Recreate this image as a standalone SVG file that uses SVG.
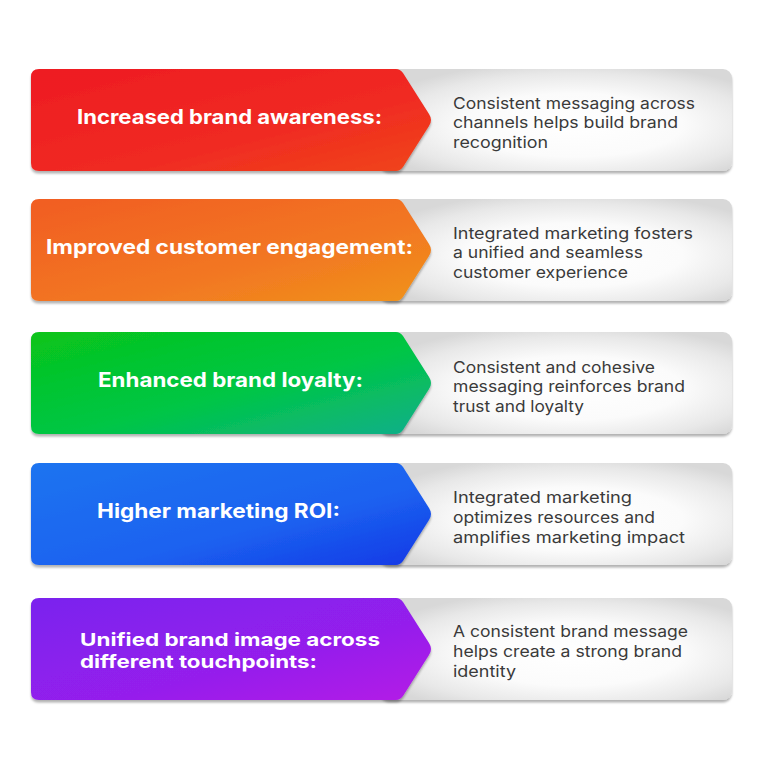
<svg xmlns="http://www.w3.org/2000/svg" xmlns:xlink="http://www.w3.org/1999/xlink" width="768" height="768" viewBox="0 0 768 768">
  <defs>
    <filter id="sh" x="-5%" y="-10%" width="110%" height="130%">
      <feDropShadow dx="0" dy="2.5" stdDeviation="1" flood-color="#000" flood-opacity="0.3"/>
    </filter>
    <radialGradient id="gGray" cx="0.55" cy="0.55" r="0.62">
      <stop offset="0" stop-color="#ffffff"/>
      <stop offset="0.5" stop-color="#fbfbfb"/>
      <stop offset="0.82" stop-color="#e8e8e8"/>
      <stop offset="1" stop-color="#d8d8d8"/>
    </radialGradient>
    <linearGradient id="gRed" x1="0" y1="0" x2="1" y2="1">
      <stop offset="0" stop-color="#ee1b24"/>
      <stop offset="0.6" stop-color="#f02a22"/>
      <stop offset="1" stop-color="#f0461a"/>
    </linearGradient>
    <linearGradient id="gOrange" x1="0" y1="0" x2="1" y2="1">
      <stop offset="0" stop-color="#f15d22"/>
      <stop offset="0.6" stop-color="#f27722"/>
      <stop offset="1" stop-color="#f0931a"/>
    </linearGradient>
    <linearGradient id="gGreen" x1="0" y1="0" x2="1" y2="1">
      <stop offset="0" stop-color="#08c41a"/>
      <stop offset="0.55" stop-color="#02c645"/>
      <stop offset="1" stop-color="#0fae8c"/>
    </linearGradient>
    <linearGradient id="gBlue" x1="0" y1="0" x2="1" y2="1">
      <stop offset="0" stop-color="#1f74f0"/>
      <stop offset="0.6" stop-color="#1c62f0"/>
      <stop offset="1" stop-color="#1238e6"/>
    </linearGradient>
    <linearGradient id="gPurple" x1="0" y1="0" x2="1" y2="1">
      <stop offset="0" stop-color="#7a22ee"/>
      <stop offset="0.6" stop-color="#951fec"/>
      <stop offset="1" stop-color="#b41ae6"/>
    </linearGradient>
    <path id="arrow" d="M39,0 L396,0 Q400,0 403,4 L429,45 Q433,51 429,57 L403,98 Q400,102 396,102 L39,102 Q31,102 31,94 L31,8 Q31,0 39,0 Z"/>
    <rect id="panel" x="380" y="0" width="352" height="102" rx="9"/>
    <style>
      .title { font-family: Inter, "Noto Sans", "DejaVu Sans", sans-serif; font-weight: 700; font-size: 20px; fill: #ffffff; }
      .title2 { font-size: 18px; }
      .desc { font-family: Inter, "Noto Sans", "DejaVu Sans", sans-serif; font-weight: 400; font-size: 16px; fill: #3a3a3a; }
    </style>
  </defs>
  <rect width="768" height="768" fill="#ffffff"/>

  <g id="row1" transform="translate(0 69)">
    <use xlink:href="#panel" href="#panel" fill="url(#gGray)" filter="url(#sh)"/>
    <use xlink:href="#arrow" href="#arrow" fill="url(#gRed)" filter="url(#sh)"/>
    <text class="title" x="77" y="55" textLength="305" lengthAdjust="spacingAndGlyphs">Increased brand awareness:</text>
    <text class="desc" x="453" y="39.5" textLength="242" lengthAdjust="spacingAndGlyphs">Consistent messaging across</text>
    <text class="desc" x="453" y="59.3" textLength="225" lengthAdjust="spacingAndGlyphs">channels helps build brand</text>
    <text class="desc" x="453" y="79" textLength="95" lengthAdjust="spacingAndGlyphs">recognition</text>
  </g>

  <g id="row2" transform="translate(0 199)">
    <use xlink:href="#panel" href="#panel" fill="url(#gGray)" filter="url(#sh)"/>
    <use xlink:href="#arrow" href="#arrow" fill="url(#gOrange)" filter="url(#sh)"/>
    <text class="title" x="46" y="55" textLength="367" lengthAdjust="spacingAndGlyphs">Improved customer engagement:</text>
    <text class="desc" x="453" y="39.5" textLength="240" lengthAdjust="spacingAndGlyphs">Integrated marketing fosters</text>
    <text class="desc" x="453" y="59.3" textLength="190" lengthAdjust="spacingAndGlyphs">a unified and seamless</text>
    <text class="desc" x="453" y="79" textLength="175" lengthAdjust="spacingAndGlyphs">customer experience</text>
  </g>

  <g id="row3" transform="translate(0 332)">
    <use xlink:href="#panel" href="#panel" fill="url(#gGray)" filter="url(#sh)"/>
    <use xlink:href="#arrow" href="#arrow" fill="url(#gGreen)" filter="url(#sh)"/>
    <text class="title" x="98" y="55" textLength="265" lengthAdjust="spacingAndGlyphs">Enhanced brand loyalty:</text>
    <text class="desc" x="453" y="40.5" textLength="202" lengthAdjust="spacingAndGlyphs">Consistent and cohesive</text>
    <text class="desc" x="453" y="60.3" textLength="232" lengthAdjust="spacingAndGlyphs">messaging reinforces brand</text>
    <text class="desc" x="453" y="80" textLength="131" lengthAdjust="spacingAndGlyphs">trust and loyalty</text>
  </g>

  <g id="row4" transform="translate(0 463)">
    <use xlink:href="#panel" href="#panel" fill="url(#gGray)" filter="url(#sh)"/>
    <use xlink:href="#arrow" href="#arrow" fill="url(#gBlue)" filter="url(#sh)"/>
    <text class="title" x="97" y="55" textLength="243" lengthAdjust="spacingAndGlyphs">Higher marketing ROI:</text>
    <text class="desc" x="453" y="40" textLength="179" lengthAdjust="spacingAndGlyphs">Integrated marketing</text>
    <text class="desc" x="453" y="59.8" textLength="202" lengthAdjust="spacingAndGlyphs">optimizes resources and</text>
    <text class="desc" x="453" y="79.5" textLength="232" lengthAdjust="spacingAndGlyphs">amplifies marketing impact</text>
  </g>

  <g id="row5" transform="translate(0 598)">
    <use xlink:href="#panel" href="#panel" fill="url(#gGray)" filter="url(#sh)"/>
    <use xlink:href="#arrow" href="#arrow" fill="url(#gPurple)" filter="url(#sh)"/>
    <text class="title title2" x="80" y="47.5" textLength="300" lengthAdjust="spacingAndGlyphs">Unified brand image across</text>
    <text class="title title2" x="80" y="69.8" textLength="237" lengthAdjust="spacingAndGlyphs">different touchpoints:</text>
    <text class="desc" x="453" y="39" textLength="235" lengthAdjust="spacingAndGlyphs">A consistent brand message</text>
    <text class="desc" x="453" y="58.8" textLength="229" lengthAdjust="spacingAndGlyphs">helps create a strong brand</text>
    <text class="desc" x="453" y="78.5" textLength="63" lengthAdjust="spacingAndGlyphs">identity</text>
  </g>
</svg>
